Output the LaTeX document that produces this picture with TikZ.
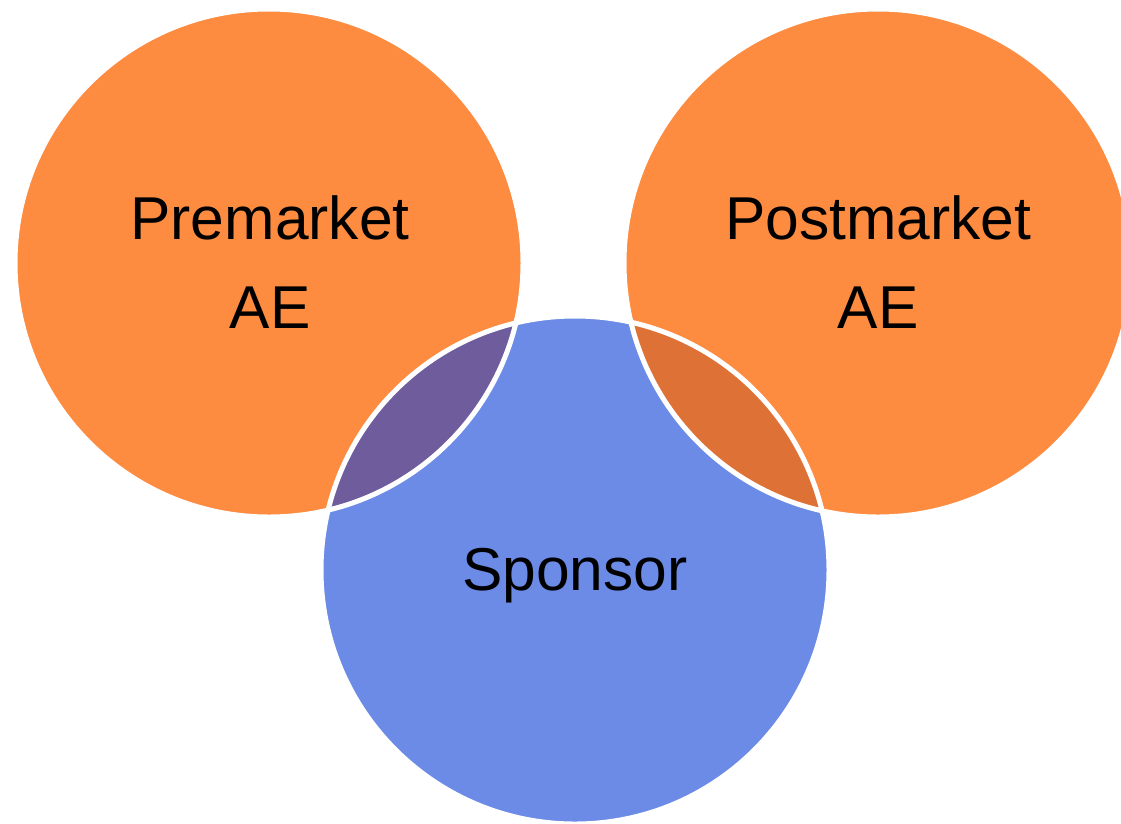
\documentclass[tikz,border=0pt]{standalone}
\usepackage{fontspec}
\setmainfont{Liberation Sans}
\definecolor{orangefill}{HTML}{FD8B40}
\definecolor{bluefill}{HTML}{6C8BE6}
\definecolor{lensleft}{HTML}{6E5C9C}
\definecolor{lensright}{HTML}{DE7236}
\tikzset{
  lbl/.style={font=\fontsize{60.5}{89}\selectfont, align=center, text=black},
  rim/.style={draw=white, line width=5pt}
}
\begin{document}
\begin{tikzpicture}[x=1pt,y=-1pt]
\useasboundingbox (0,0) rectangle (1121,823);
\clip (0,0) rectangle (1121,823);
\coordinate (cl) at (269,263);
\coordinate (cr) at (878,263);
\coordinate (cb) at (575,570);
\fill[orangefill] (cl) circle (254);
\fill[orangefill] (cr) circle (254);
\fill[bluefill] (cb) circle (254);
\begin{scope}
  \clip (cl) circle (254);
  \fill[lensleft] (cb) circle (254);
\end{scope}
\begin{scope}
  \clip (cr) circle (254);
  \fill[lensright] (cb) circle (254);
\end{scope}
\draw[rim] (cl) circle (254);
\draw[rim] (cr) circle (254);
\draw[rim] (cb) circle (254);
\node[lbl] (pre) at (270,262) {Premarket\\AE};
\node[lbl] (post) at (878,262) {Postmarket\\AE};
\node[lbl] (spon) at (575,576) {Sponsor};
\end{tikzpicture}
\end{document}
